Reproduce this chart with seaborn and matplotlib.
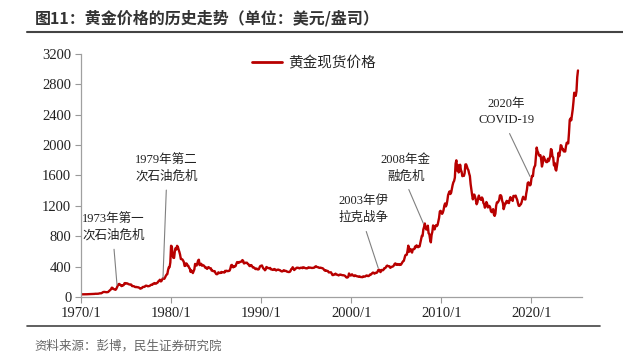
import numpy as np
import pandas as pd
import matplotlib
matplotlib.use("Agg")
import matplotlib.pyplot as plt
from matplotlib.lines import Line2D
import seaborn as sns

# monthly gold spot price, USD/oz
prices_1970s = [
    34.9, 35.0, 35.1, 35.6, 35.9, 35.4, 35.3, 35.4, 36.2, 37.5, 37.4, 37.4,
    37.9, 38.7, 38.9, 39.0, 40.5, 40.1, 41.0, 42.7, 42.0, 42.5, 42.9, 43.5,
    45.7, 48.3, 48.3, 49.0, 54.6, 62.1, 65.7, 67.0, 65.5, 64.9, 62.9, 63.9,
    65.1, 74.2, 84.4, 90.5, 102.0, 122.5, 120.2, 106.8, 103.0, 100.1, 94.6, 106.5,
    129.2, 150.2, 168.4, 172.2, 163.7, 154.1, 143.0, 154.6, 151.8, 158.8, 181.7, 183.9,
    176.3, 179.6, 178.2, 170.1, 167.4, 164.2, 165.2, 163.1, 144.3, 142.8, 142.8, 139.3,
    131.6, 130.6, 132.5, 128.2, 128.1, 125.6, 117.7, 109.6, 114.4, 116.0, 130.1, 133.7,
    132.3, 136.4, 148.2, 149.2, 146.6, 140.8, 143.1, 144.9, 150.0, 158.7, 161.9, 160.5,
    173.2, 178.2, 183.7, 175.3, 176.3, 183.7, 188.8, 206.1, 212.0, 227.4, 206.0, 207.8,
    227.3, 245.7, 242.0, 239.2, 257.6, 279.1, 294.7, 300.8, 355.1, 391.7, 392.5, 455.1,
]
prices_1980s = [
    675, 665, 554, 517, 514, 601, 644, 627, 674, 661, 624, 595,
    557, 500, 499, 495, 480, 460, 409, 410, 443, 437, 413, 410,
    384, 374, 330, 350, 334, 315, 339, 364, 436, 422, 414, 444,
    481, 491, 420, 432, 438, 413, 422, 416, 411, 394, 382, 388,
    370, 386, 394, 381, 377, 378, 348, 348, 341, 340, 341, 320,
    303, 299, 304, 325, 316, 317, 317, 330, 323, 326, 325, 322,
    345, 339, 346, 340, 342, 343, 348, 376, 418, 423, 395, 391,
    408, 401, 409, 438, 460, 450, 450, 461, 460, 465, 467, 486,
    477, 442, 444, 452, 451, 452, 437, 433, 413, 406, 420, 419,
    404, 388, 390, 384, 371, 367, 375, 365, 362, 367, 394, 409,
]
prices_1990s = [
    410, 416, 393, 374, 369, 352, 362, 395, 389, 380, 381, 378,
    383, 364, 363, 358, 357, 367, 368, 356, 349, 358, 360, 361,
    354, 354, 345, 338, 337, 341, 353, 343, 345, 344, 335, 334,
    329, 329, 330, 342, 367, 371, 392, 378, 355, 364, 373, 383,
    387, 382, 384, 377, 381, 386, 385, 380, 391, 389, 384, 379,
    379, 376, 382, 391, 385, 387, 386, 383, 383, 383, 386, 387,
    400, 405, 396, 393, 392, 385, 383, 387, 383, 381, 378, 369,
    355, 347, 352, 344, 344, 341, 324, 324, 323, 325, 306, 289,
    289, 297, 296, 308, 299, 292, 293, 284, 289, 296, 294, 291,
    287, 287, 286, 282, 277, 262, 256, 257, 265, 310, 293, 283,
]
prices_2000s = [
    285, 299, 286, 280, 275, 285, 282, 274, 273, 270, 266, 272,
    266, 262, 263, 261, 272, 270, 268, 273, 283, 283, 276, 276,
    282, 296, 294, 303, 315, 322, 314, 307, 319, 317, 319, 333,
    356, 359, 340, 328, 355, 356, 351, 360, 379, 379, 389, 407,
    414, 405, 406, 404, 384, 392, 398, 400, 406, 420, 439, 442,
    424, 424, 434, 429, 422, 430, 424, 438, 456, 470, 476, 510,
    549, 555, 557, 610, 676, 596, 633, 632, 599, 585, 627, 629,
    631, 665, 655, 680, 667, 655, 665, 665, 712, 754, 806, 803,
    889, 922, 968, 909, 888, 890, 939, 839, 829, 760, 720, 816,
    858, 943, 924, 890, 928, 946, 934, 949, 996, 1043, 1127, 1135,
]
prices_2010s = [
    1118, 1095, 1113, 1148, 1205, 1232, 1193, 1215, 1271, 1342, 1370, 1391,
    1356, 1372, 1424, 1473, 1510, 1528, 1572, 1756, 1800, 1665, 1739, 1640,
    1654, 1742, 1675, 1649, 1591, 1598, 1594, 1630, 1745, 1747, 1721, 1688,
    1671, 1627, 1593, 1487, 1414, 1343, 1286, 1347, 1348, 1316, 1275, 1221,
    1244, 1300, 1336, 1299, 1287, 1279, 1311, 1296, 1239, 1222, 1176, 1201,
    1251, 1227, 1179, 1198, 1199, 1181, 1131, 1117, 1125, 1157, 1087, 1068,
    1097, 1200, 1246, 1242, 1260, 1276, 1337, 1341, 1326, 1267, 1238, 1157,
    1192, 1234, 1231, 1266, 1246, 1260, 1236, 1283, 1315, 1280, 1283, 1265,
    1331, 1331, 1325, 1335, 1304, 1281, 1238, 1202, 1199, 1215, 1221, 1250,
    1291, 1320, 1300, 1286, 1284, 1359, 1413, 1500, 1510, 1494, 1470, 1480,
]
prices_2020s = [
    1560, 1597, 1592, 1683, 1715, 1732, 1846, 1968, 1921, 1900, 1866, 1858,
    1867, 1808, 1718, 1760, 1850, 1834, 1807, 1785, 1776, 1777, 1821, 1790,
    1817, 1856, 1948, 1937, 1849, 1837, 1733, 1764, 1681, 1665, 1726, 1798,
    1898, 1854, 1912, 1999, 1992, 1943, 1951, 1918, 1916, 1916, 1985, 2030,
    2034, 2023, 2159, 2331, 2351, 2326, 2398, 2470, 2571, 2690, 2651, 2649,
    2710, 2895, 2983,
]

tick_years = [1970, 1980, 1990, 2000, 2010, 2020]
tick_labels = ["1970/1", "1980/1", "1990/1", "2000/1", "2010/1", "2020/1"]

# event notes: (label, text x, text y, point x, point y)
events = [
    ("1973年第一\n次石油危机", 1973.6, 918, 1974.0, 157),
    ("1979年第二\n次石油危机", 1979.5, 1698, 1979.1, 249),
    ("2003年伊\n拉克战争", 2001.4, 1148, 2003.0, 380),
    ("2008年金\n融危机", 2006.05, 1698, 2008.0, 970),
    ("2020年\nCOVID-19", 2017.2, 2433, 2019.85, 1587),
]

price = np.concatenate([prices_1970s, prices_1980s, prices_1990s,
                        prices_2000s, prices_2010s, prices_2020s])
t = 1970 + np.arange(len(price)) / 12
df = pd.DataFrame({"t": t, "price": price})

sns.set_theme(style="white")
plt.rcParams['font.family'] = ['Noto Sans CJK SC', 'DejaVu Sans']
serif = ['Liberation Serif', 'Noto Sans CJK SC']

fig = plt.figure(figsize=(6.23, 3.6), dpi=100)
ax = fig.add_axes([0.130, 0.175, 0.804, 0.675])

line_color = "#B80000"
sns.lineplot(data=df, x="t", y="price", ax=ax, color=line_color, lw=1.7, legend=False)

ax.set_xlim(1970, 2025.6)
ax.set_ylim(0, 3200)
ax.set_yticks(np.arange(0, 3201, 400))
ax.set_xticks(tick_years)
ax.set_xticklabels(tick_labels)
ax.set_xlabel("")
ax.set_ylabel("")
for lab in ax.get_xticklabels() + ax.get_yticklabels():
    lab.set_family(serif)
    lab.set_fontsize(10.5)
    lab.set_color("#222222")
ax.tick_params(axis="both", which="both", length=4, width=0.8, color="#999999",
               direction="out", left=True, bottom=True, pad=3)
sns.despine(ax=ax)
for s in ["left", "bottom"]:
    ax.spines[s].set_color("#A0A0A0")
    ax.spines[s].set_linewidth(0.9)

handle = Line2D([], [], color=line_color, lw=2)
ax.legend([handle], ["黄金现货价格"], loc="center", bbox_to_anchor=(0.465, 0.963),
          frameon=False, fontsize=10.5, handlelength=2.1, handletextpad=0.4)

for label, tx, ty, px, py in events:
    ax.annotate(label, xy=(px, py), xytext=(tx, ty), ha="center", va="center",
                fontsize=9, family=serif, color="#222222", linespacing=1.5,
                arrowprops=dict(arrowstyle="-", color="#808080", lw=0.8,
                                shrinkA=3, shrinkB=0, relpos=(0.5, 0)))

# title, rules and source
fig.text(0.056, 0.95, "图11：黄金价格的历史走势（单位：美元/盎司）", fontsize=11.5,
         fontweight="bold", color="#333333", va="center", ha="left")
fig.add_artist(Line2D([0.043, 1.0], [0.912, 0.912], color="#444444", lw=1.5))
fig.add_artist(Line2D([0.043, 0.963], [0.094, 0.094], color="#444444", lw=1.2))
fig.text(0.056, 0.039, "资料来源：彭博，民生证券研究院", fontsize=9,
         color="#666666", va="center", ha="left")

fig.savefig("out.png", dpi=100)
